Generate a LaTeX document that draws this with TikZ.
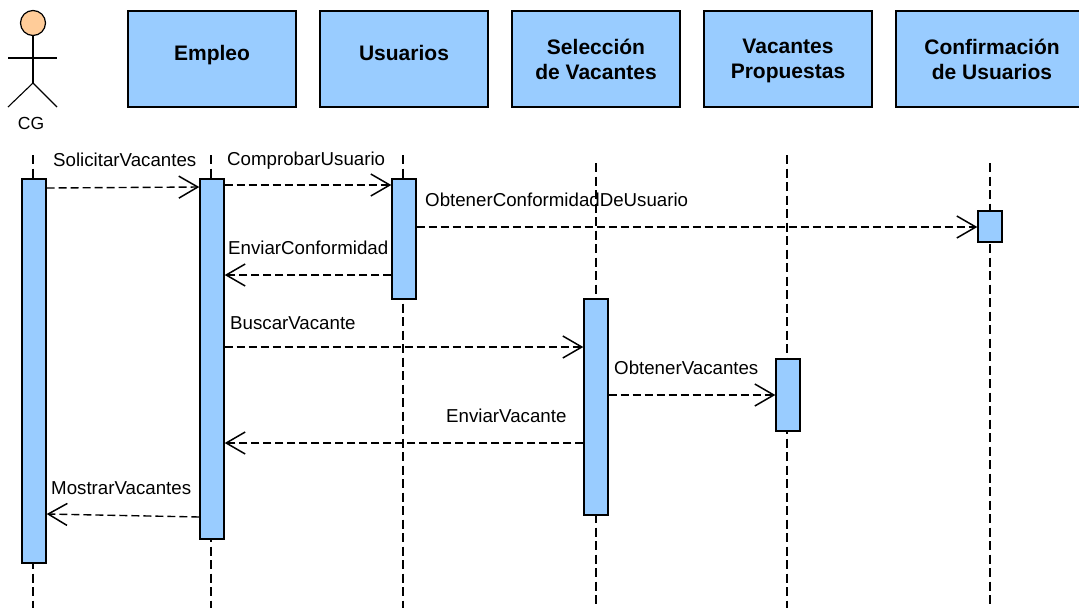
\documentclass[tikz,border=0pt]{standalone}
\usepackage{fontspec}
\setmainfont{Liberation Sans}
\usetikzlibrary{arrows.meta}
\definecolor{barblue}{HTML}{99CCFF}
\definecolor{headorange}{HTML}{FFCC99}
\tikzset{
    lifebox/.style={draw, fill=barblue, line width=1.4pt, minimum width=168pt, minimum height=96pt, align=center, font=\fontsize{21}{25}\selectfont\bfseries, inner sep=0pt},
    oneline/.style={text depth=12pt},
    bar/.style={draw, fill=barblue, line width=1.4pt, minimum width=24pt, inner sep=0pt},
    msg/.style={anchor=west, inner sep=0pt, font=\fontsize{18.7}{22}\selectfont},
    call/.style={dash pattern=on 8pt off 4pt, line width=1.1pt, -{Straight Barb[length=19pt, width=22pt, line width=1.5pt]}},
    lifeline/.style={dash pattern=on 9pt off 4.5pt, line width=1.1pt},
}
\begin{document}
\begin{tikzpicture}[x=1pt, y=-1pt]
    \useasboundingbox (0, 0) rectangle (1079, 611);

    % Lifelines
    \coordinate (cgtop) at (33, 155);
    \coordinate (cgend) at (33, 608);
    \coordinate (emtop) at (211, 155);
    \coordinate (emend) at (211, 608);
    \coordinate (ustop) at (403, 155);
    \coordinate (usend) at (403, 608);
    \coordinate (setop) at (596, 163);
    \coordinate (seend) at (596, 608);
    \coordinate (vatop) at (787, 155);
    \coordinate (vaend) at (787, 608);
    \coordinate (cotop) at (990, 163);
    \coordinate (coend) at (990, 608);
    \draw[lifeline] (cgtop) -- (cgend);
    \draw[lifeline] (emtop) -- (emend);
    \draw[lifeline] (ustop) -- (usend);
    \draw[lifeline] (setop) -- (seend);
    \draw[lifeline] (vatop) -- (vaend);
    \draw[lifeline] (cotop) -- (coend);

    % Actor
    \node[draw, circle, fill=headorange, line width=1.2pt, minimum size=25pt, inner sep=0pt] at (33, 23) (head) {};
    \coordinate (hip) at (33, 83);
    \coordinate (armleft) at (8, 58);
    \coordinate (armright) at (57, 58);
    \coordinate (footleft) at (8, 107);
    \coordinate (footright) at (57, 107);
    \draw[line width=1.1pt] (head) -- (hip);
    \draw[line width=1.1pt] (armleft) -- (armright);
    \draw[line width=1.1pt] (footleft) -- (hip) -- (footright);
    \node[inner sep=0pt, font=\fontsize{17.5}{20}\selectfont] at (31, 123) (cg) {CG};

    % Header boxes
    \node[lifebox, oneline] at (212, 59) (empleo) {Empleo};
    \node[lifebox, oneline] at (404, 59) (usuarios) {Usuarios};
    \node[lifebox] at (596, 59) (seleccion) {Selección\\de Vacantes};
    \node[lifebox, text depth=0pt] at (788, 59) (vacantes) {Vacantes\\Propuestas\vphantom{ó}};
    \node[lifebox, minimum width=192pt] at (992, 59) (confirmacion) {Confirmación\\de Usuarios};

    % Activation bars
    \node[bar, minimum height=384pt] at (34, 371) (barcg) {};
    \node[bar, minimum height=360pt] at (212, 359) (barem) {};
    \node[bar, minimum height=120pt] at (404, 239) (barus) {};
    \node[bar, minimum height=216pt] at (596, 407) (barse) {};
    \node[bar, minimum height=72pt] at (788, 395) (barva) {};
    \node[bar, minimum height=31pt] at (990, 226.5) (barco) {};

    % Messages
    \draw[call, line width=1.4pt] (barcg.east |- 0, 188) -- (barem.west |- 0, 187);
    \draw[call] (barem.east |- 0, 185) -- (barus.west |- 0, 185);
    \draw[call] (barus.east |- 0, 227) -- (barco.west |- 0, 227);
    \draw[call] (barus.west |- 0, 275) -- (barem.east |- 0, 275);
    \draw[call] (barem.east |- 0, 347) -- (barse.west |- 0, 347);
    \draw[call] (barse.east |- 0, 395) -- (barva.west |- 0, 395);
    \draw[call] (barse.west |- 0, 443) -- (barem.east |- 0, 443);
    \draw[call, line width=1.4pt] (barem.west |- 0, 517) -- (barcg.east |- 0, 514);

    % Labels
    \node[msg] at (53, 160) (solicitar) {SolicitarVacantes};
    \node[msg] at (227, 161) (comprobar) {ComprobarUsuario};
    \node[msg] at (425, 200) (conformidad) {ObtenerConformidadDeUsuario};
    \node[msg] at (228, 248) (enviarconf) {EnviarConformidad};
    \node[msg] at (230, 323) (buscar) {BuscarVacante};
    \node[msg] at (614, 368) (obtener) {ObtenerVacantes};
    \node[msg] at (446, 416) (enviarvac) {EnviarVacante};
    \node[msg] at (51, 488) (mostrar) {MostrarVacantes};
\end{tikzpicture}
\end{document}
